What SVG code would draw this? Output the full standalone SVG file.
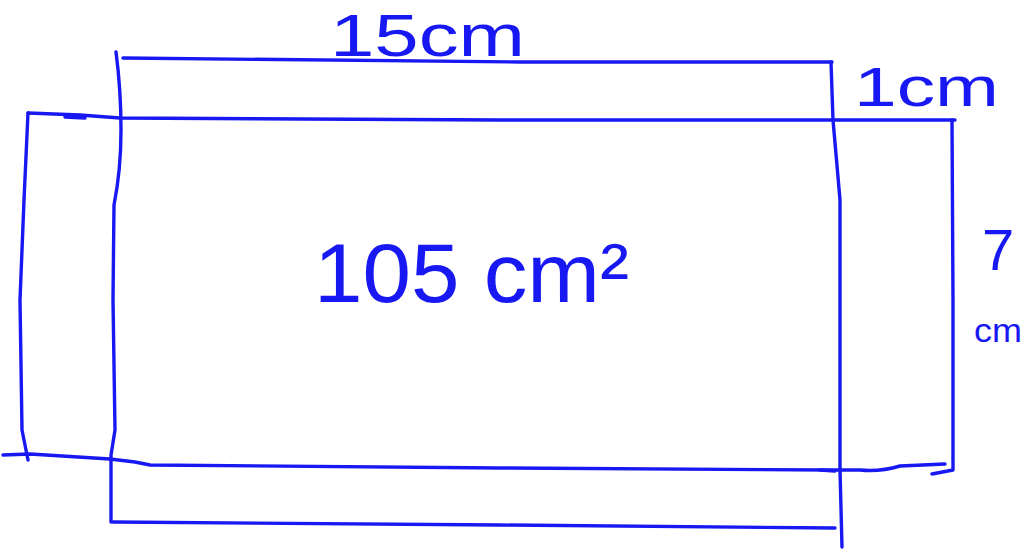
<svg xmlns="http://www.w3.org/2000/svg" width="1024" height="550" viewBox="0 0 1024 550">
<style>
.s{fill:none;stroke:#1818f2;stroke-width:3.4;stroke-linecap:round;stroke-linejoin:round}
.t{fill:#1818f2;font-family:"Liberation Sans",Arial,sans-serif}
</style>
<rect width="1024" height="550" fill="#ffffff"/>
<g id="lines">
<path class="s" d="M123 58 L520 62 L832 62"/>
<path class="s" d="M116 52 Q121 90 121 130 Q121 170 114 205 L113 300 L115 430 L111 455 L111 522"/>
<path class="s" d="M113 522 L500 525 L835 528"/>
<path class="s" d="M831 62 L833 120 L840 200 L840 470 L842 547"/>
<path class="s" d="M28 113 L80 115 L120 118 L500 120 L955 120"/>
<path class="s" d="M65 117 L85 118"/>
<path class="s" d="M28 113 L24 200 L20 300 L22 430 L28 460"/>
<path class="s" d="M3 455 L30 454 L110 459 L135 462 L150 465 L500 468 L830 470 L860 470 Q880 472 900 466 L945 464"/>
<path class="s" d="M952 120 L953 300 L953 470 L932 474"/>
<path class="s" d="M820 470 L835 471"/>
</g>
<g id="labels">
<text class="t" x="330" y="56" font-size="60" textLength="195" lengthAdjust="spacingAndGlyphs">15cm</text>
<text class="t" x="854" y="106" font-size="56" textLength="145" lengthAdjust="spacingAndGlyphs">1cm</text>
<text class="t" x="314" y="302" font-size="84" textLength="315" lengthAdjust="spacingAndGlyphs">105 cm²</text>
<text class="t" x="982" y="270" font-size="58">7</text>
<text class="t" x="974" y="342" font-size="34" textLength="48" lengthAdjust="spacingAndGlyphs">cm</text>
</g>
</svg>
